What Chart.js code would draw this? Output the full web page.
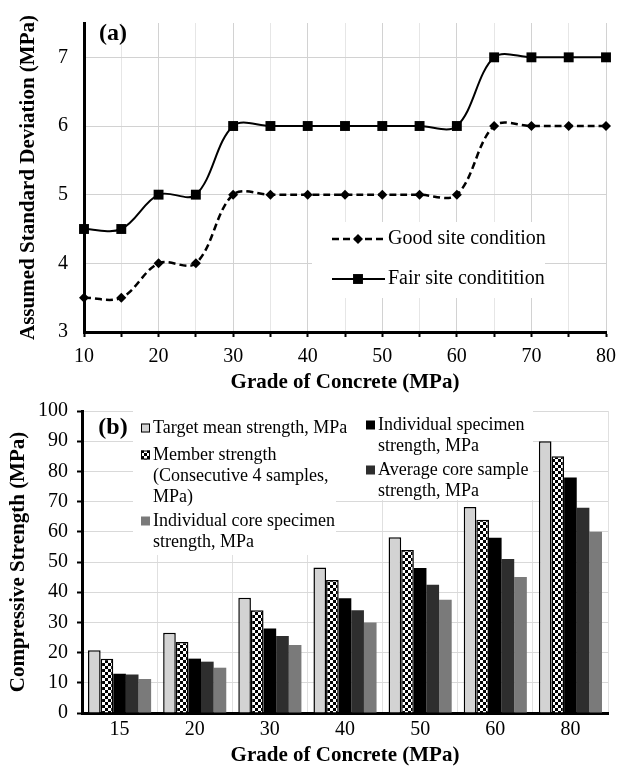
<!DOCTYPE html>
<html>
<head>
<meta charset="utf-8">
<title>Standard deviation and strength requirements</title>
<script src="https://cdn.jsdelivr.net/npm/chart.js@4.4.1/dist/chart.umd.min.js"></script>
<style>
  body { margin: 0; background: #fff; }
  #wrapA { position: absolute; left: 0; top: 0; width: 624px; height: 400px; }
  #wrapB { position: absolute; left: 0; top: 390px; width: 624px; height: 384px; }
</style>
</head>
<body>
<div id="wrapA"><canvas id="chartA"></canvas></div>
<div id="wrapB"><canvas id="chartB"></canvas></div>
<script>
// --- (a) assumed standard deviation by grade ---
const grades = [10, 15, 20, 25, 30, 35, 40, 45, 50, 55, 60, 65, 70, 75, 80];
const goodSite = [3.5, 3.5, 4, 4, 5, 5, 5, 5, 5, 5, 5, 6, 6, 6, 6];
const fairSite = [4.5, 4.5, 5, 5, 6, 6, 6, 6, 6, 6, 6, 7, 7, 7, 7];

// --- (b) strength requirements by grade ---
const gradeLabels = ["15", "20", "30", "40", "50", "60", "80"];
const targetMean = [20.8, 26.6, 38.2, 48.2, 58.2, 68.2, 90];
const memberStrength = [18, 23.5, 34, 44, 54, 64, 85];
const individualSpecimen = [13, 18, 28, 38, 48, 58, 78];
const averageCore = [12.75, 17, 25.5, 34, 42.5, 51, 68];
const individualCore = [11.25, 15, 22.5, 30, 37.5, 45, 60];

const SERIF = "'Liberation Serif', 'Times New Roman', serif";
Chart.defaults.font.family = SERIF;
Chart.defaults.color = "#000";

const toPoints = (ys) => grades.map((g, i) => ({ x: g, y: ys[i] }));

// small marker helper for the hand-drawn legends
function marker(ctx, style, x, y, r) {
  ctx.beginPath();
  if (style === "rectRot") {
    ctx.moveTo(x - r, y); ctx.lineTo(x, y - r); ctx.lineTo(x + r, y); ctx.lineTo(x, y + r);
  } else {
    const s = Math.SQRT1_2 * r;
    ctx.rect(x - s, y - s, 2 * s, 2 * s);
  }
  ctx.closePath();
  ctx.fill();
}

// legend + panel tag for chart (a)
const legendA = {
  id: "legendA",
  beforeDatasetsDraw(chart) {
    const ctx = chart.ctx;
    ctx.save();
    ctx.fillStyle = "#fff";
    ctx.fillRect(312, 222, 233, 76);
    const rows = [
      { y: 239, dash: [7, 4], width: 2.5, style: "rectRot", r: 5, text: "Good site condition" },
      { y: 279, dash: [], width: 2, style: "rect", r: 7, text: "Fair site conditition" }
    ];
    rows.forEach((row) => {
      ctx.strokeStyle = "#000";
      ctx.lineWidth = row.width;
      ctx.setLineDash(row.dash);
      ctx.beginPath();
      ctx.moveTo(332, row.y);
      ctx.lineTo(385, row.y);
      ctx.stroke();
      ctx.setLineDash([]);
      ctx.fillStyle = "#000";
      marker(ctx, row.style, 358, row.y, row.r);
      ctx.font = "20px " + SERIF;
      ctx.textAlign = "left";
      ctx.textBaseline = "middle";
      ctx.fillText(row.text, 388, row.y);
    });
    ctx.font = "bold 24px " + SERIF;
    ctx.textAlign = "center";
    ctx.fillText("(a)", 113, 34);
    ctx.restore();
  }
};

new Chart(document.getElementById("chartA"), {
  type: "line",
  data: {
    datasets: [
      {
        label: "Good site condition",
        data: toPoints(goodSite),
        borderColor: "#000",
        backgroundColor: "#000",
        borderWidth: 2.5,
        borderDash: [7, 4],
        pointStyle: "rectRot",
        pointRadius: 5,
        pointBorderWidth: 0,
        tension: 0.35,
        clip: false
      },
      {
        label: "Fair site conditition",
        data: toPoints(fairSite),
        borderColor: "#000",
        backgroundColor: "#000",
        borderWidth: 2,
        pointStyle: "rect",
        pointRadius: 7,
        pointBorderWidth: 0,
        tension: 0.35,
        clip: false
      }
    ]
  },
  options: {
    responsive: true,
    maintainAspectRatio: false,
    animation: false,
    layout: { padding: { top: 9, right: 17, left: 0, bottom: 0 } },
    plugins: { legend: { display: false }, tooltip: { enabled: false } },
    scales: {
      x: {
        type: "linear",
        min: 10,
        max: 80,
        afterFit: (s) => { s.height = 68; },
        ticks: {
          stepSize: 5,
          autoSkip: false,
          maxRotation: 0,
          padding: 8,
          font: { size: 20 },
          callback: (v) => (v % 10 === 0 ? String(v) : "")
        },
        grid: {
          color: (c) => (c.tick && c.tick.value % 10 === 0 ? "#d2d2d2" : "#e6e6e6"),
          tickColor: "#000",
          tickLength: 5,
          tickWidth: 2
        },
        border: { color: "#000", width: 3 },
        title: {
          display: true,
          text: "Grade of Concrete (MPa)",
          font: { size: 21, weight: "bold" },
          padding: { top: 0, bottom: 5 }
        }
      },
      y: {
        min: 3,
        max: 7.5,
        afterFit: (s) => { s.width = 84; },
        ticks: { stepSize: 1, includeBounds: false, padding: 11, font: { size: 20 } },
        grid: { color: "#d2d2d2", tickColor: "rgba(0,0,0,0)", tickLength: 5 },
        border: { color: "#000", width: 3 },
        title: {
          display: true,
          text: "Assumed Standard Deviation (MPa)",
          font: { size: 21, weight: "bold" },
          padding: { top: 16, bottom: 0 }
        }
      }
    }
  },
  plugins: [legendA]
});

// checkered fill for the member strength bars
const canvasB = document.getElementById("chartB");
function makeChecker() {
  const c = document.createElement("canvas");
  c.width = 6; c.height = 6;
  const g = c.getContext("2d");
  g.fillStyle = "#000"; g.fillRect(0, 0, 6, 6);
  g.fillStyle = "#fff"; g.fillRect(0, 0, 3, 3); g.fillRect(3, 3, 3, 3);
  return canvasB.getContext("2d").createPattern(c, "repeat");
}
const checker = makeChecker();

// two-column legend for chart (b), drawn under the bars
const legendB = {
  id: "legendB",
  beforeDatasetsDraw(chart) {
    const ctx = chart.ctx;
    const ds = chart.data.datasets;
    const entries = [
      { i: 0, x: 141, y: 38, lines: ["Target mean strength, MPa"] },
      { i: 1, x: 141, y: 65, lines: ["Member strength", "(Consecutive 4 samples,", "MPa)"] },
      { i: 4, x: 141, y: 131, lines: ["Individual core specimen", "strength, MPa"] },
      { i: 2, x: 366, y: 35, lines: ["Individual specimen", "strength, MPa"] },
      { i: 3, x: 366, y: 80, lines: ["Average core sample", "strength, MPa"] }
    ];
    ctx.save();
    ctx.fillStyle = "#fff";
    ctx.fillRect(133, 20, 400, 90);
    ctx.fillRect(133, 110, 203, 55);
    ctx.font = "18px " + SERIF;
    ctx.textAlign = "left";
    ctx.textBaseline = "middle";
    entries.forEach((e) => {
      const d = ds[e.i];
      ctx.fillStyle = d.backgroundColor;
      ctx.fillRect(e.x, e.y - 4.5, 9, 9);
      if (d.borderWidth) {
        ctx.strokeStyle = "#000";
        ctx.lineWidth = 1;
        ctx.strokeRect(e.x + 0.5, e.y - 4, 8, 8);
      }
      ctx.fillStyle = "#000";
      e.lines.forEach((t, k) => ctx.fillText(t, e.x + 12, e.y + k * 21));
    });
    ctx.font = "bold 24px " + SERIF;
    ctx.textAlign = "center";
    ctx.fillText("(b)", 113, 38);
    ctx.restore();
  }
};

new Chart(canvasB, {
  type: "bar",
  data: {
    labels: gradeLabels,
    datasets: [
      { label: "Target mean strength, MPa", data: targetMean, backgroundColor: "#d3d3d3", borderColor: "#000", borderWidth: 1.5 },
      { label: "Member strength (Consecutive 4 samples, MPa)", data: memberStrength, backgroundColor: checker, borderColor: "#000", borderWidth: 1.5 },
      { label: "Individual specimen strength, MPa", data: individualSpecimen, backgroundColor: "#000", borderWidth: 0 },
      { label: "Average core sample strength, MPa", data: averageCore, backgroundColor: "#2e2e2e", borderWidth: 0 },
      { label: "Individual core specimen strength, MPa", data: individualCore, backgroundColor: "#7a7a7a", borderWidth: 0 }
    ]
  },
  options: {
    responsive: true,
    maintainAspectRatio: false,
    animation: false,
    layout: { padding: { top: 17, right: 16, left: 0, bottom: 0 } },
    plugins: { legend: { display: false }, tooltip: { enabled: false } },
    datasets: { bar: { categoryPercentage: 0.84, barPercentage: 1 } },
    scales: {
      x: {
        afterFit: (s) => { s.height = 61; },
        ticks: { padding: 5, font: { size: 20 }, maxRotation: 0 },
        grid: { color: "#e0e0e0", drawTicks: false },
        border: { color: "#000", width: 3 },
        title: {
          display: true,
          text: "Grade of Concrete (MPa)",
          font: { size: 21, weight: "bold" },
          padding: { top: 0, bottom: 6 }
        }
      },
      y: {
        min: 0,
        max: 100,
        afterFit: (s) => { s.width = 82; },
        ticks: { stepSize: 10, padding: 9, font: { size: 20 } },
        grid: { color: "#d9d9d9", tickColor: "#000", tickLength: 5, tickWidth: 2 },
        border: { color: "#000", width: 3 },
        title: {
          display: true,
          text: "Compressive Strength (MPa)",
          font: { size: 21, weight: "bold" },
          padding: { top: 6, bottom: 0 }
        }
      }
    }
  },
  plugins: [legendB]
});
</script>
</body>
</html>
